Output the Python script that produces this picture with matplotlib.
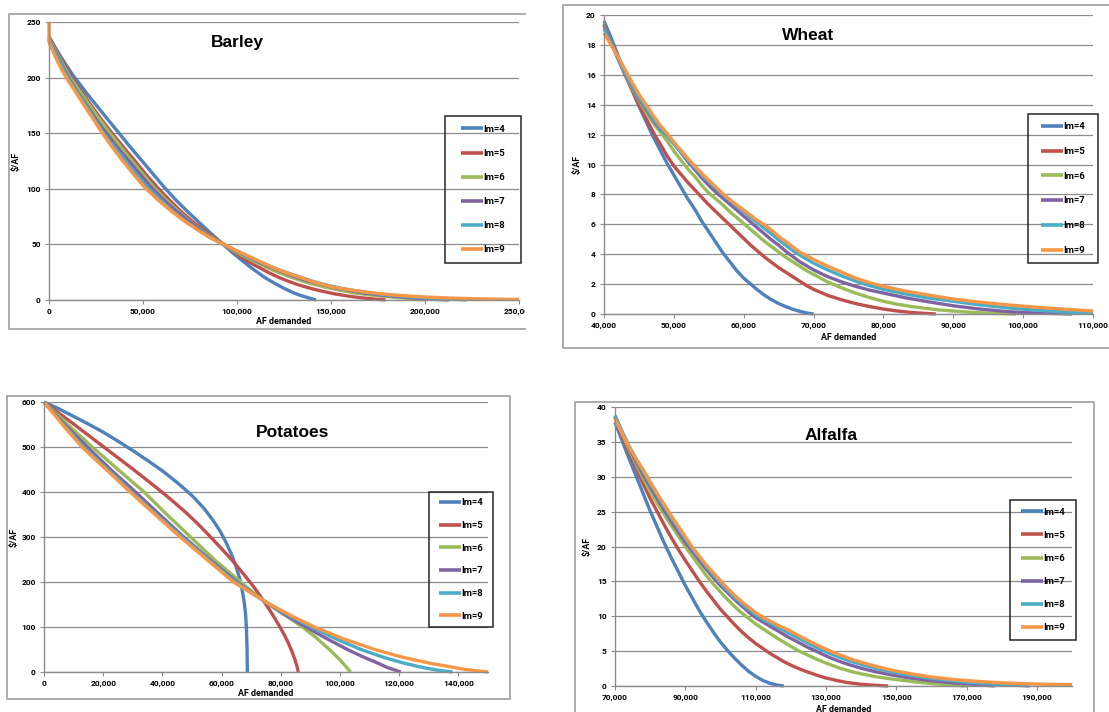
import numpy as np
import matplotlib
matplotlib.use("Agg")
import matplotlib.pyplot as plt
from matplotlib.lines import Line2D
from matplotlib.patches import Rectangle
from matplotlib.ticker import FuncFormatter
from matplotlib.transforms import Bbox, TransformedBbox

plt.rcParams['font.family'] = ['Roboto', 'DejaVu Sans']
plt.rcParams['font.weight'] = 'bold'

W, H = 1109, 712

SERIES = ["Im=4", "Im=5", "Im=6", "Im=7", "Im=8", "Im=9"]
COLORS = ["#4F81BD", "#C0504D", "#9BBB59", "#8064A2", "#4BACC6", "#F79646"]

# ---------------- Barley (x in thousand AF, y in $/AF) ----------------
barley_im4_x = [0, 3, 6, 9, 12.8, 16, 20, 25, 30, 37, 44, 50, 56, 62, 68, 74, 80, 86, 93, 98, 102, 106, 110, 115, 120, 125, 130, 134, 138, 142]
barley_im4_y = [237, 228, 219.5, 211.5, 202, 195, 186, 175.5, 165, 150.5, 136, 124, 112, 100, 89, 79, 69.5, 60, 49.5, 42, 36.5, 31, 26, 20, 15, 10.5, 6.5, 4, 2, 0]
barley_im5_x = [0, 4, 8, 11.5, 16, 22, 28, 34, 40, 46, 52, 58, 64, 70, 76, 82, 88, 93, 98, 102, 107, 112, 117, 122, 127, 132, 138, 145, 152, 160, 166, 172, 179]
barley_im5_y = [236, 224, 212, 201, 190.5, 176, 162, 149, 136.5, 124.5, 112, 100.5, 90, 80, 71, 63, 56, 50, 43.5, 39, 33.5, 29, 24.5, 20.5, 17, 14, 11, 8, 5.5, 3.3, 2, 1, 0]
barley_im6_x = [0, 4, 8, 10.8, 15, 21, 26, 32, 38, 44, 50, 56, 62, 68, 74, 80, 86, 93, 98, 104, 110, 115, 121, 128, 134, 140, 147, 155, 162, 170, 178, 185, 192, 200]
barley_im6_y = [235, 222.5, 210, 201, 191, 176.5, 164.5, 151, 138, 125.5, 113, 101, 90.5, 81, 72, 64, 57, 50, 44.5, 39, 34, 30, 25.5, 21, 17.5, 14.5, 11.5, 8.8, 6.5, 4.7, 3.3, 2.3, 1.3, 0]
barley_im7_x = [0, 4, 7, 10.3, 15, 20, 25, 30.5, 36, 42, 48, 54, 60, 66, 72, 80, 86, 93, 99, 105, 111, 117, 123, 130, 137, 145, 152, 160, 167, 175, 183, 190, 198, 205, 213]
barley_im7_y = [234, 221, 211, 200, 187.5, 175, 162.5, 150, 138, 126, 114, 102, 91.5, 82.5, 74, 63.5, 56.5, 50, 44.5, 39.5, 34.5, 30, 26, 21.5, 17.5, 14, 11, 8.5, 6.5, 4.8, 3.4, 2.4, 1.4, 0.6, 0]
barley_im8_x = [0, 4, 7, 10, 14.5, 19.5, 24, 29, 35, 40.5, 46.5, 52.5, 59, 65, 72, 80, 86, 93, 99, 105, 111, 118, 125, 132, 140, 148, 156, 165, 172, 180, 190, 200, 210, 222]
barley_im8_y = [233, 220, 209.5, 200, 188, 175, 163, 150, 137, 125.5, 113, 101, 90.5, 81, 71.5, 62.5, 56, 50, 44.8, 40, 35, 30, 25.5, 21.5, 17, 13.3, 10.3, 7.8, 6, 4.6, 3.2, 2.0, 1.1, 0]
barley_im9_x = [0, 0, 2, 4, 6.5, 9.5, 13, 18, 23, 28, 33, 39, 45, 51, 58, 65, 72, 80, 86, 93, 99, 106, 113, 120, 127, 135, 142, 150, 160, 170, 180, 190, 200, 212, 225, 237, 250]
barley_im9_y = [250, 232, 224, 216.5, 208, 199, 190, 177, 164, 151, 139, 125.5, 113, 101, 90, 80, 71, 62, 55.7, 50, 45, 39.5, 34, 28.5, 24, 19.5, 15.5, 12, 9, 6.8, 5, 3.7, 2.7, 1.8, 1.2, 0.8, 0.5]

# ---------------- Wheat ----------------
wheat_im4_x = [40, 41, 42, 43, 44, 45, 46, 47, 48, 49, 50, 51, 52, 53, 54, 55, 56, 57, 58, 59, 60, 61, 62, 63, 64, 65, 66, 67, 68, 69, 70]
wheat_im4_y = [19.6, 18.5, 17.3, 16.1, 15.0, 13.9, 12.9, 11.9, 11.0, 10.1, 9.3, 8.5, 7.7, 7.0, 6.2, 5.5, 4.8, 4.1, 3.5, 2.9, 2.4, 2.0, 1.6, 1.25, 0.95, 0.7, 0.5, 0.32, 0.18, 0.07, 0]
wheat_im5_x = [40, 41, 42, 43, 44, 45, 46, 47, 48, 49, 50, 51, 52, 53, 54, 55, 56, 57, 58, 59, 60, 61, 62, 63, 64, 65, 66, 67, 68, 69, 70, 72, 74, 76, 78, 80, 82, 84, 86, 87.5]
wheat_im5_y = [19.4, 18.2, 17.1, 16.0, 15.0, 14.0, 13.1, 12.2, 11.4, 10.6, 9.9, 9.35, 8.8, 8.3, 7.8, 7.3, 6.85, 6.4, 5.95, 5.5, 5.05, 4.6, 4.2, 3.8, 3.45, 3.1, 2.8, 2.5, 2.2, 1.9, 1.65, 1.25, 0.95, 0.7, 0.5, 0.33, 0.2, 0.1, 0.04, 0]
wheat_im6_x = [40, 41, 42, 43, 44, 45, 46, 47, 48, 49, 50, 51, 52, 53, 54, 55, 56, 57, 58, 59, 60, 61, 62, 63, 64, 65, 66, 67, 68, 69, 70, 72, 74, 76, 78, 80, 82, 84, 86, 88, 90, 93, 96, 99]
wheat_im6_y = [19.3, 18.2, 17.1, 16.1, 15.1, 14.3, 13.5, 12.8, 12.2, 11.6, 10.9, 10.3, 9.7, 9.2, 8.6, 8.1, 7.7, 7.3, 6.85, 6.45, 6.05, 5.65, 5.25, 4.85, 4.5, 4.15, 3.8, 3.5, 3.2, 2.9, 2.65, 2.15, 1.75, 1.4, 1.1, 0.85, 0.65, 0.5, 0.38, 0.27, 0.2, 0.1, 0.04, 0]
wheat_im7_x = [40, 41, 42, 43, 44, 45, 46, 47, 48, 49, 50, 51, 52, 53, 54, 55, 56, 57, 58, 59, 60, 61, 62, 63, 64, 65, 66, 67, 68, 70, 72, 74, 76, 78, 80, 83, 86, 90, 94, 98, 102, 107]
wheat_im7_y = [19.3, 18.2, 17.1, 16.1, 15.2, 14.4, 13.7, 13.0, 12.4, 11.95, 11.4, 10.8, 10.2, 9.65, 9.1, 8.6, 8.15, 7.75, 7.35, 6.95, 6.55, 6.15, 5.75, 5.35, 4.95, 4.6, 4.2, 3.85, 3.5, 2.95, 2.5, 2.15, 1.85, 1.6, 1.4, 1.1, 0.85, 0.55, 0.32, 0.15, 0.06, 0]
wheat_im8_x = [40, 41, 42, 43, 44, 45, 46, 47, 48, 49, 50, 51, 52, 53, 54, 55, 56, 57, 58, 59, 60, 61, 62, 63, 64, 65, 66, 67, 68, 70, 72, 74, 76, 78, 80, 83, 86, 90, 94, 98, 102, 106, 110]
wheat_im8_y = [19.1, 18.1, 17.1, 16.15, 15.3, 14.5, 13.8, 13.1, 12.5, 11.95, 11.4, 10.85, 10.3, 9.8, 9.3, 8.85, 8.4, 8.0, 7.6, 7.2, 6.85, 6.45, 6.1, 5.7, 5.35, 4.95, 4.6, 4.25, 3.95, 3.4, 2.95, 2.55, 2.2, 1.9, 1.65, 1.35, 1.1, 0.85, 0.6, 0.4, 0.25, 0.13, 0.05]
wheat_im9_x = [40, 41, 42, 43, 44, 45, 46, 47, 48, 49, 50, 51, 52, 53, 54, 55, 56, 57, 58, 59, 60, 61, 62, 63, 64, 65, 66, 67, 68, 70, 72, 74, 76, 78, 80, 83, 86, 90, 94, 98, 102, 106, 110]
wheat_im9_y = [18.8, 18.0, 17.2, 16.35, 15.5, 14.7, 14.0, 13.3, 12.65, 12.1, 11.5, 10.95, 10.4, 9.9, 9.4, 8.95, 8.5, 8.05, 7.65, 7.3, 6.95, 6.6, 6.25, 5.95, 5.6, 5.2, 4.85, 4.5, 4.15, 3.65, 3.2, 2.8, 2.4, 2.1, 1.85, 1.55, 1.3, 1.0, 0.78, 0.6, 0.45, 0.32, 0.2]

# ---------------- Potatoes ----------------
potatoes_im4_x = [0, 5, 10, 15, 20, 25, 30, 35, 40, 45, 50, 54, 57, 59.5, 61.5, 63.3, 64.8, 66.0, 66.9, 67.6, 68.1, 68.4, 68.6, 68.7]
potatoes_im4_y = [600, 585, 568, 551, 533, 513, 492, 470, 447, 421, 392, 364, 338, 313, 288, 262, 236, 210, 184, 157, 128, 95, 50, 0]
potatoes_im5_x = [0, 10, 20, 30, 36, 40, 44, 48, 52, 56, 60, 64, 68, 71, 74, 76.5, 79, 81, 82.5, 83.8, 84.8, 85.5, 85.9]
potatoes_im5_y = [600, 551, 501, 451, 420, 399, 377, 354, 329, 302, 274, 245, 213, 188, 160, 135, 108, 85, 65, 45, 27, 12, 0]
potatoes_im6_x = [0, 8, 16.3, 25, 33.8, 41.5, 49.5, 57.5, 66.4, 71.5, 76.5, 82, 87.3, 92, 96.1, 100, 103.6]
potatoes_im6_y = [600, 550, 500, 450, 400, 350, 300, 250, 200, 172, 148, 124, 100, 76, 52, 27, 0]
potatoes_im7_x = [0, 7, 14.6, 22.5, 30.9, 39, 47.2, 56, 65.2, 70, 75.1, 81, 88.5, 95, 102.5, 108, 112, 116, 120.5]
potatoes_im7_y = [600, 550, 500, 450, 400, 350, 300, 250, 200, 177, 155, 129, 100, 76, 50, 33, 22, 10, 0]
potatoes_im8_x = [0, 6.5, 13.4, 21.5, 29.7, 38, 46.6, 55.5, 64.6, 70, 75.7, 83, 90.3, 98.5, 107.1, 115, 122, 128, 133, 138]
potatoes_im8_y = [600, 550, 500, 450, 400, 350, 300, 250, 200, 176, 152, 125, 100, 74, 50, 32, 19, 10, 4, 0]
potatoes_im9_x = [0, 6.2, 12.8, 21, 29.1, 37.5, 46, 55, 64, 70, 75.9, 83.5, 91.4, 101, 111.8, 121, 130, 136, 142, 150]
potatoes_im9_y = [600, 550, 500, 450, 400, 350, 300, 250, 200, 176, 152, 125, 100, 74, 50, 33, 20, 13, 6, 0]

# ---------------- Alfalfa ----------------
alfalfa_im4_x = [70, 72, 74, 76, 78, 80, 82, 84, 86, 88, 90, 92, 94, 96, 98, 100, 102, 104, 106, 108, 110, 112, 114, 116, 118]
alfalfa_im4_y = [37.8, 35.2, 32.6, 30.1, 27.6, 25.1, 22.8, 20.5, 18.4, 16.4, 14.4, 12.6, 10.8, 9.2, 7.7, 6.3, 5.1, 4.0, 3.0, 2.1, 1.4, 0.8, 0.4, 0.15, 0]
alfalfa_im5_x = [70, 72, 74, 76, 78, 80, 82, 84, 86, 88, 90, 92, 94, 96, 98, 100, 102, 104, 106, 108, 110, 112, 114, 116, 118, 120, 122, 124, 126, 128, 130, 133, 136, 140, 144, 147.7]
alfalfa_im5_y = [38.5, 35.9, 33.5, 31.2, 29.0, 26.9, 25.0, 23.1, 21.3, 19.6, 18.0, 16.5, 15.0, 13.6, 12.3, 11.0, 9.9, 8.8, 7.8, 6.9, 6.1, 5.4, 4.7, 4.1, 3.5, 3.0, 2.55, 2.15, 1.8, 1.45, 1.15, 0.8, 0.5, 0.25, 0.1, 0]
alfalfa_im6_x = [70, 72, 74, 76, 78, 80, 82, 84, 86, 88, 90, 92, 94, 96, 98, 100, 102, 104, 106, 108, 110, 113, 116, 119, 122, 125, 128, 131, 134, 137, 140, 144, 148, 152, 156, 160, 165, 170]
alfalfa_im6_y = [38.6, 36.2, 33.9, 31.8, 29.8, 27.9, 26.2, 24.6, 23.0, 21.5, 20.0, 18.6, 17.2, 15.8, 14.6, 13.5, 12.4, 11.4, 10.5, 9.7, 8.9, 7.9, 6.9, 6.0, 5.1, 4.4, 3.7, 3.1, 2.55, 2.1, 1.75, 1.35, 1.05, 0.8, 0.55, 0.35, 0.15, 0]
alfalfa_im7_x = [70, 72, 74, 76, 78, 80, 82, 84, 86, 88, 90, 92, 94, 96, 98, 100, 102, 104, 106, 108, 110, 113, 116, 119, 122, 125, 128, 131, 134, 137, 140, 144, 148, 152, 156, 160, 165, 170, 174, 178]
alfalfa_im7_y = [38.7, 36.4, 34.2, 32.2, 30.3, 28.6, 26.9, 25.2, 23.6, 22.1, 20.6, 19.3, 18.0, 16.7, 15.5, 14.4, 13.4, 12.4, 11.5, 10.6, 9.8, 8.9, 8.0, 7.1, 6.3, 5.5, 4.8, 4.1, 3.5, 3.0, 2.55, 2.05, 1.65, 1.3, 1.0, 0.75, 0.5, 0.3, 0.15, 0]
alfalfa_im8_x = [70, 72, 74, 76, 78, 80, 82, 84, 86, 88, 90, 92, 94, 96, 98, 100, 102, 104, 106, 108, 110, 113, 116, 119, 122, 125, 128, 131, 134, 137, 140, 144, 148, 152, 156, 160, 165, 170, 175, 180, 185, 188]
alfalfa_im8_y = [38.8, 36.5, 34.4, 32.5, 30.7, 29.0, 27.4, 25.7, 24.1, 22.6, 21.1, 19.7, 18.4, 17.1, 15.9, 14.8, 13.7, 12.7, 11.8, 11.0, 10.2, 9.3, 8.5, 7.7, 6.9, 6.1, 5.35, 4.7, 4.1, 3.55, 3.1, 2.55, 2.1, 1.7, 1.4, 1.1, 0.8, 0.55, 0.35, 0.2, 0.08, 0]
alfalfa_im9_x = [70, 72, 74, 76, 78, 80, 82, 84, 86, 88, 90, 92, 94, 96, 98, 100, 102, 104, 106, 108, 110, 113, 116, 119, 122, 125, 128, 131, 134, 137, 140, 144, 148, 152, 156, 160, 165, 170, 175, 180, 185, 190, 195, 200]
alfalfa_im9_y = [38.3, 36.2, 34.3, 32.6, 31.0, 29.3, 27.6, 26.0, 24.4, 22.9, 21.4, 19.9, 18.6, 17.3, 16.2, 15.1, 14.0, 13.0, 12.1, 11.3, 10.5, 9.6, 8.8, 8.1, 7.3, 6.5, 5.75, 5.05, 4.45, 3.9, 3.4, 2.85, 2.35, 1.95, 1.6, 1.3, 1.0, 0.78, 0.6, 0.46, 0.36, 0.28, 0.23, 0.2]

# Axis settings per crop (AF on x, $/AF on y)
barley_axes = dict(xlim=(0, 250000), xstep=50000, ylim=(0, 250), ystep=50)
wheat_axes = dict(xlim=(40000, 110000), xstep=10000, ylim=(0, 20), ystep=2)
potatoes_axes = dict(xlim=(0, 150000), xstep=20000, ylim=(0, 600), ystep=100)
alfalfa_axes = dict(xlim=(70000, 200000), xstep=20000, ylim=(0, 40), ystep=5)

fig = plt.figure(figsize=(W / 100, H / 100), dpi=100)
fig.patch.set_facecolor("white")

GRID = "#8C8C8C"
BORDER = "#A6A6A6"


def fxy(px, py):
    return px / W, 1 - py / H


def border(points):
    xs = [p[0] / W for p in points]
    ys = [1 - p[1] / H for p in points]
    fig.add_artist(Line2D(xs, ys, color=BORDER, lw=1.3, transform=fig.transFigure))


def panel(name, plot_box, series_x, series_y, axes_cfg, title_xy, legend_box, ylabel_x, xlabel_y,
          legend_spacing, clip_right=None):
    l, t, r, b = plot_box
    ax = fig.add_axes([l / W, 1 - b / H, (r - l) / W, (b - t) / H])
    for lab, col, xs, ys in zip(SERIES, COLORS, series_x, series_y):
        ax.plot(np.array(xs) * 1000, ys, color=col, lw=2.4, label=lab, clip_on=False,
                solid_capstyle='butt', solid_joinstyle='round')
    x0, x1 = axes_cfg['xlim']
    y0, y1 = axes_cfg['ylim']
    ax.set_xlim(x0, x1)
    ax.set_ylim(y0, y1)
    ax.set_xticks(np.arange(x0, x1 + 1, axes_cfg['xstep']))
    ax.set_yticks(np.arange(y0, y1 + 0.001, axes_cfg['ystep']))
    ax.xaxis.set_major_formatter(FuncFormatter(lambda v, _: f"{int(round(v)):,}"))
    ax.yaxis.set_major_formatter(FuncFormatter(lambda v, _: f"{int(round(v))}"))
    for s in ['top', 'right']:
        ax.spines[s].set_visible(False)
    for s in ['left', 'bottom']:
        ax.spines[s].set_color(GRID)
        ax.spines[s].set_linewidth(1.0)
    ax.yaxis.grid(True, color=GRID, lw=0.9)
    ax.set_axisbelow(True)
    ax.tick_params(direction='out', length=3, width=0.8, color=GRID, labelsize=6.0, pad=3,
                   labelcolor='black')
    for lbl in ax.get_xticklabels() + ax.get_yticklabels():
        lbl.set_fontweight('bold')
    ax.set_xlabel("AF demanded", fontsize=6.4, va='center', fontweight='bold')
    ax.xaxis.set_label_coords(0.5, -(xlabel_y - b) / (b - t))
    ax.set_ylabel("$/AF", fontsize=6.4, va='center', fontweight='bold')
    ax.yaxis.set_label_coords(-(l - ylabel_x) / (r - l), 0.5)
    tx, ty = fxy(*title_xy)
    fig.text(tx, ty, name, ha='center', va='baseline', fontsize=12.5,
             family='Liberation Sans', weight='bold')
    # legend
    ll, lt, lr, lb = legend_box
    cx, cy = fxy((ll + lr) / 2, (lt + lb) / 2)
    leg = ax.legend(loc='center', bbox_to_anchor=(cx, cy), bbox_transform=fig.transFigure,
                    frameon=False, prop=dict(size=6.8, weight='bold'), handlelength=2.3,
                    handletextpad=0.05, labelspacing=legend_spacing, borderpad=0)
    for h in leg.get_lines():
        h.set_linewidth(2.6)
    fig.add_artist(Rectangle((ll / W, 1 - lb / H), (lr - ll) / W, (lb - lt) / H,
                             transform=fig.transFigure, fill=False, ec="#262626", lw=1.1))
    if clip_right is not None:
        cb = TransformedBbox(Bbox([[0, 0], [clip_right / W, 1]]), fig.transFigure)
        for lbl in ax.get_xticklabels():
            lbl.set_clip_box(cb)
            lbl.set_clip_on(True)
    return ax


panel("Barley", (49, 22, 519, 300),
      [barley_im4_x, barley_im5_x, barley_im6_x, barley_im7_x, barley_im8_x, barley_im9_x],
      [barley_im4_y, barley_im5_y, barley_im6_y, barley_im7_y, barley_im8_y, barley_im9_y],
      barley_axes, (237, 47), (445, 116, 521, 263), 16, 322, 1.6, clip_right=525)
border([(525, 14), (9, 14), (9, 329), (525, 329)])

panel("Wheat", (604, 15, 1093, 314),
      [wheat_im4_x, wheat_im5_x, wheat_im6_x, wheat_im7_x, wheat_im8_x, wheat_im9_x],
      [wheat_im4_y, wheat_im5_y, wheat_im6_y, wheat_im7_y, wheat_im8_y, wheat_im9_y],
      wheat_axes, (808, 40), (1028, 114, 1098, 263), 577, 337, 1.67)
border([(1109, 5), (563, 5), (563, 348), (1109, 348)])

panel("Potatoes", (44, 402, 488, 672),
      [potatoes_im4_x, potatoes_im5_x, potatoes_im6_x, potatoes_im7_x, potatoes_im8_x, potatoes_im9_x],
      [potatoes_im4_y, potatoes_im5_y, potatoes_im6_y, potatoes_im7_y, potatoes_im8_y, potatoes_im9_y],
      potatoes_axes, (293, 437), (429, 492, 493, 627), 14, 693, 1.45)
border([(7, 396), (510, 396), (510, 699), (7, 699), (7, 396)])

panel("Alfalfa", (615, 407, 1072, 686),
      [alfalfa_im4_x, alfalfa_im5_x, alfalfa_im6_x, alfalfa_im7_x, alfalfa_im8_x, alfalfa_im9_x],
      [alfalfa_im4_y, alfalfa_im5_y, alfalfa_im6_y, alfalfa_im7_y, alfalfa_im8_y, alfalfa_im9_y],
      alfalfa_axes, (831, 440), (1010, 500, 1076, 640), 587, 709, 1.5)
border([(575, 712), (575, 402), (1094, 402), (1094, 712)])

fig.savefig("out.png", dpi=100, facecolor="white")
